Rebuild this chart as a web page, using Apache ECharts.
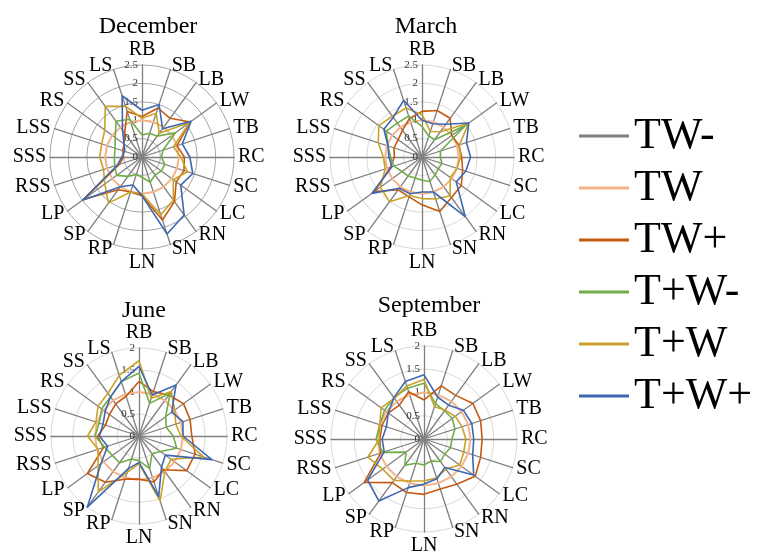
<!DOCTYPE html>
<html>
<head>
<meta charset="utf-8">
<script src="https://cdn.jsdelivr.net/npm/echarts@6/dist/echarts.min.js"></script>
<style>
  html, body { margin: 0; padding: 0; background: #fff; }
  #chart { width: 757px; height: 558px; }
</style>
</head>
<body>
<div id="chart"></div>
<script>
// Tissue axes, listed clockwise from the top
const axes = ['RB', 'SB', 'LB', 'LW', 'TB', 'RC', 'SC', 'LC', 'RN', 'SN',
              'LN', 'RP', 'SP', 'LP', 'RSS', 'SSS', 'LSS', 'RS', 'SS', 'LS'];

const treatments = ['TW-', 'TW', 'TW+', 'T+W-', 'T+W', 'T+W+'];
const months = ['December', 'March', 'June', 'September'];
const monthMax = [2.5, 2.5, 2, 2];

// December
const decTWm  = [0, 0, 0, 0, 0, 0, 0, 0, 0, 0, 0, 0, 0, 0, 0, 0, 0, 0, 0, 0];
const decTW   = [1, 1, 1, 1, 1, 1, 1, 1, 1, 1, 1, 1, 1, 1, 1, 1, 1, 1, 1, 1];
const decTWp  = [1.1, 1.4, 1.3, 1.62, 1.0, 1.15, 1.2, 1.15, 1.5, 1.8, 1.05, 1.0, 1.1, 1.95, 0.65, 0.5, 0.55, 0.6, 0.8, 1.3];
const decTpWm = [0.6, 0.68, 0.7, 1.12, 0.6, 0.53, 0.65, 0.65, 0.6, 0.72, 0.55, 0.5, 0.65, 0.85, 0.78, 0.75, 0.77, 0.9, 1.2, 1.08];
const decTpW  = [1.05, 1.25, 0.8, 1.6, 0.9, 1.05, 1.3, 1.05, 1.45, 1.65, 1.0, 1.0, 1.55, 1.25, 1.1, 1.15, 1.15, 1.25, 1.7, 1.45];
const decTpWp = [1.27, 1.5, 0.95, 1.65, 1.15, 1.3, 1.45, 1.3, 1.95, 2.2, 1.05, 0.8, 1.0, 2.0, 0.7, 0.55, 0.5, 0.6, 0.9, 1.75];

// March
const marTWm  = [0, 0, 0, 0, 0, 0, 0, 0, 0, 0, 0, 0, 0, 0, 0, 0, 0, 0, 0, 0];
const marTW   = [1, 1, 1, 1, 1, 1, 1, 1, 1, 1, 1, 1, 1, 1, 1, 1, 1, 1, 1, 1];
const marTWp  = [1.24, 1.33, 1.3, 1.0, 1.05, 1.08, 1.16, 1.32, 1.36, 1.56, 1.3, 1.14, 1.1, 1.6, 0.9, 0.75, 0.8, 0.8, 0.9, 1.1];
const marTpWm = [0.83, 0.6, 0.58, 1.47, 0.53, 0.5, 0.57, 0.55, 0.6, 0.7, 0.63, 0.6, 0.64, 0.67, 0.8, 0.86, 0.97, 1.2, 1.14, 1.17];
const marTpW  = [1.15, 0.73, 0.85, 1.57, 1.07, 1.05, 1.0, 0.95, 1.3, 1.2, 1.13, 1.1, 1.5, 1.4, 1.05, 1.05, 1.25, 1.45, 1.37, 1.4];
const marTpWp = [1.0, 0.95, 1.1, 1.57, 1.27, 1.32, 1.25, 1.15, 2.0, 1.0, 0.95, 1.05, 1.05, 1.68, 0.86, 0.9, 0.97, 1.28, 1.33, 1.62];

// June
const junTWm  = [0, 0, 0, 0, 0, 0, 0, 0, 0, 0, 0, 0, 0, 0, 0, 0, 0, 0, 0, 0];
const junTW   = [1, 1, 1, 1, 1, 1, 1, 1, 1, 1, 1, 1, 1, 1, 1, 1, 1, 1, 1, 1];
const junTWp  = [1.24, 1.06, 1.15, 1.25, 1.22, 1.2, 1.34, 1.34, 0.95, 1.1, 0.98, 1.03, 1.3, 1.45, 0.85, 0.94, 0.8, 0.83, 0.9, 0.95];
const junTpWm = [1.43, 0.78, 1.2, 0.75, 0.65, 0.78, 0.9, 0.6, 0.5, 0.78, 0.56, 0.55, 0.75, 0.75, 0.82, 1.0, 0.95, 1.05, 1.1, 1.3];
const junTpW  = [1.71, 0.9, 1.25, 1.0, 0.88, 0.95, 1.54, 0.9, 1.0, 1.55, 0.63, 0.87, 1.57, 1.15, 0.98, 1.17, 1.03, 1.15, 1.2, 1.45];
const junTpWp = [1.58, 0.98, 1.43, 0.92, 1.05, 1.0, 1.74, 0.74, 0.87, 1.45, 0.6, 0.78, 2.0, 1.07, 0.75, 0.9, 0.86, 0.95, 1.1, 1.3];

// September
const sepTWm  = [0, 0, 0, 0, 0, 0, 0, 0, 0, 0, 0, 0, 0, 0, 0, 0, 0, 0, 0, 0];
const sepTW   = [1, 1, 1, 1, 1, 1, 1, 1, 1, 1, 1, 1, 1, 1, 1, 1, 1, 1, 1, 1];
const sepTWp  = [0.84, 1.2, 1.16, 1.3, 1.28, 1.25, 1.28, 1.36, 1.2, 1.13, 1.19, 1.21, 1.16, 1.59, 0.98, 0.95, 0.95, 0.95, 0.9, 1.07];
const sepTpWm = [1.2, 0.8, 0.75, 0.75, 0.7, 0.6, 0.6, 0.55, 0.6, 0.5, 0.56, 0.55, 0.7, 0.48, 0.93, 1.03, 1.0, 1.05, 1.1, 1.15];
const sepTpW  = [1.28, 0.73, 0.77, 0.83, 0.86, 0.9, 0.9, 0.95, 0.8, 0.88, 0.9, 0.95, 1.1, 1.1, 1.27, 0.96, 1.0, 1.14, 1.08, 1.2];
const sepTpWp = [1.38, 0.95, 0.9, 1.05, 1.08, 1.07, 1.1, 1.32, 0.76, 0.9, 0.97, 1.1, 1.65, 1.5, 0.9, 0.9, 0.85, 0.95, 1.1, 1.3];

const monthData = [
  [decTWm, decTW, decTWp, decTpWm, decTpW, decTpWp],
  [marTWm, marTW, marTWp, marTpWm, marTpW, marTpWp],
  [junTWm, junTW, junTWp, junTpWm, junTpW, junTpWp],
  [sepTWm, sepTW, sepTWp, sepTpWm, sepTpW, sepTpWp]
];

const colors = ['#7f7f7f', '#f6b48a', '#c55a11', '#70ad47', '#c9a227', '#3f67b1'];
const widths = [1.6, 2, 1.6, 1.6, 1.6, 1.6];

// Layout of the four radar panels
const panels = [
  { center: [142, 157], radius: 92, title: [143, 10], grid: '#a6a6a6' },
  { center: [422, 157], radius: 92, title: [421, 10], grid: '#d9d9d9' },
  { center: [139, 436], radius: 88, title: [139, 294], grid: '#d9d9d9' },
  { center: [424, 439], radius: 93, title: [424, 289], grid: '#d9d9d9' }
];

const serif = 'Liberation Serif';

// ECharts places radar axes counter-clockwise; walk the list backwards after the first axis
const order = [0];
for (let i = axes.length - 1; i >= 1; i--) order.push(i);

const radars = panels.map((p, m) => ({
  center: p.center,
  radius: p.radius,
  startAngle: 90,
  shape: 'circle',
  splitNumber: monthMax[m] / 0.5,
  nameGap: 4,
  axisName: { color: '#000', fontFamily: serif, fontSize: 20 },
  splitLine: { lineStyle: { color: p.grid, width: 1 } },
  splitArea: { show: false },
  axisLine: { lineStyle: { color: '#808080', width: 1.3 } },
  axisTick: { show: false },
  axisLabel: { show: false, fontFamily: serif, fontSize: 11, color: '#333', margin: 4 },
  indicator: order.map((i, k) => {
    const ind = { name: axes[i], min: 0, max: monthMax[m] };
    if (k === 0) ind.axisLabel = { show: true };
    return ind;
  })
}));

const series = monthData.map((sets, m) => ({
  type: 'radar',
  radarIndex: m,
  symbol: 'none',
  silent: true,
  z: 3,
  data: sets.map((vals, s) => ({
    name: treatments[s],
    value: order.map(i => vals[i]),
    lineStyle: { color: colors[s], width: widths[s] },
    itemStyle: { color: colors[s] }
  }))
}));

const titles = panels.map((p, m) => ({
  text: months[m],
  left: p.title[0],
  top: p.title[1],
  textAlign: 'center',
  textStyle: { fontFamily: serif, fontSize: 24, fontWeight: 'normal', color: '#000' }
}));

const chart = echarts.init(document.getElementById('chart'), null, { renderer: 'canvas' });
chart.setOption({
  animation: false,
  backgroundColor: '#fff',
  title: titles,
  legend: {
    orient: 'vertical',
    left: 574,
    top: 109,
    itemWidth: 50,
    itemHeight: 3,
    itemGap: 8,
    icon: 'rect',
    selectedMode: false,
    data: treatments,
    textStyle: { fontFamily: serif, fontSize: 44, color: '#000', lineHeight: 44 }
  },
  radar: radars,
  series: series
});
</script>
</body>
</html>
